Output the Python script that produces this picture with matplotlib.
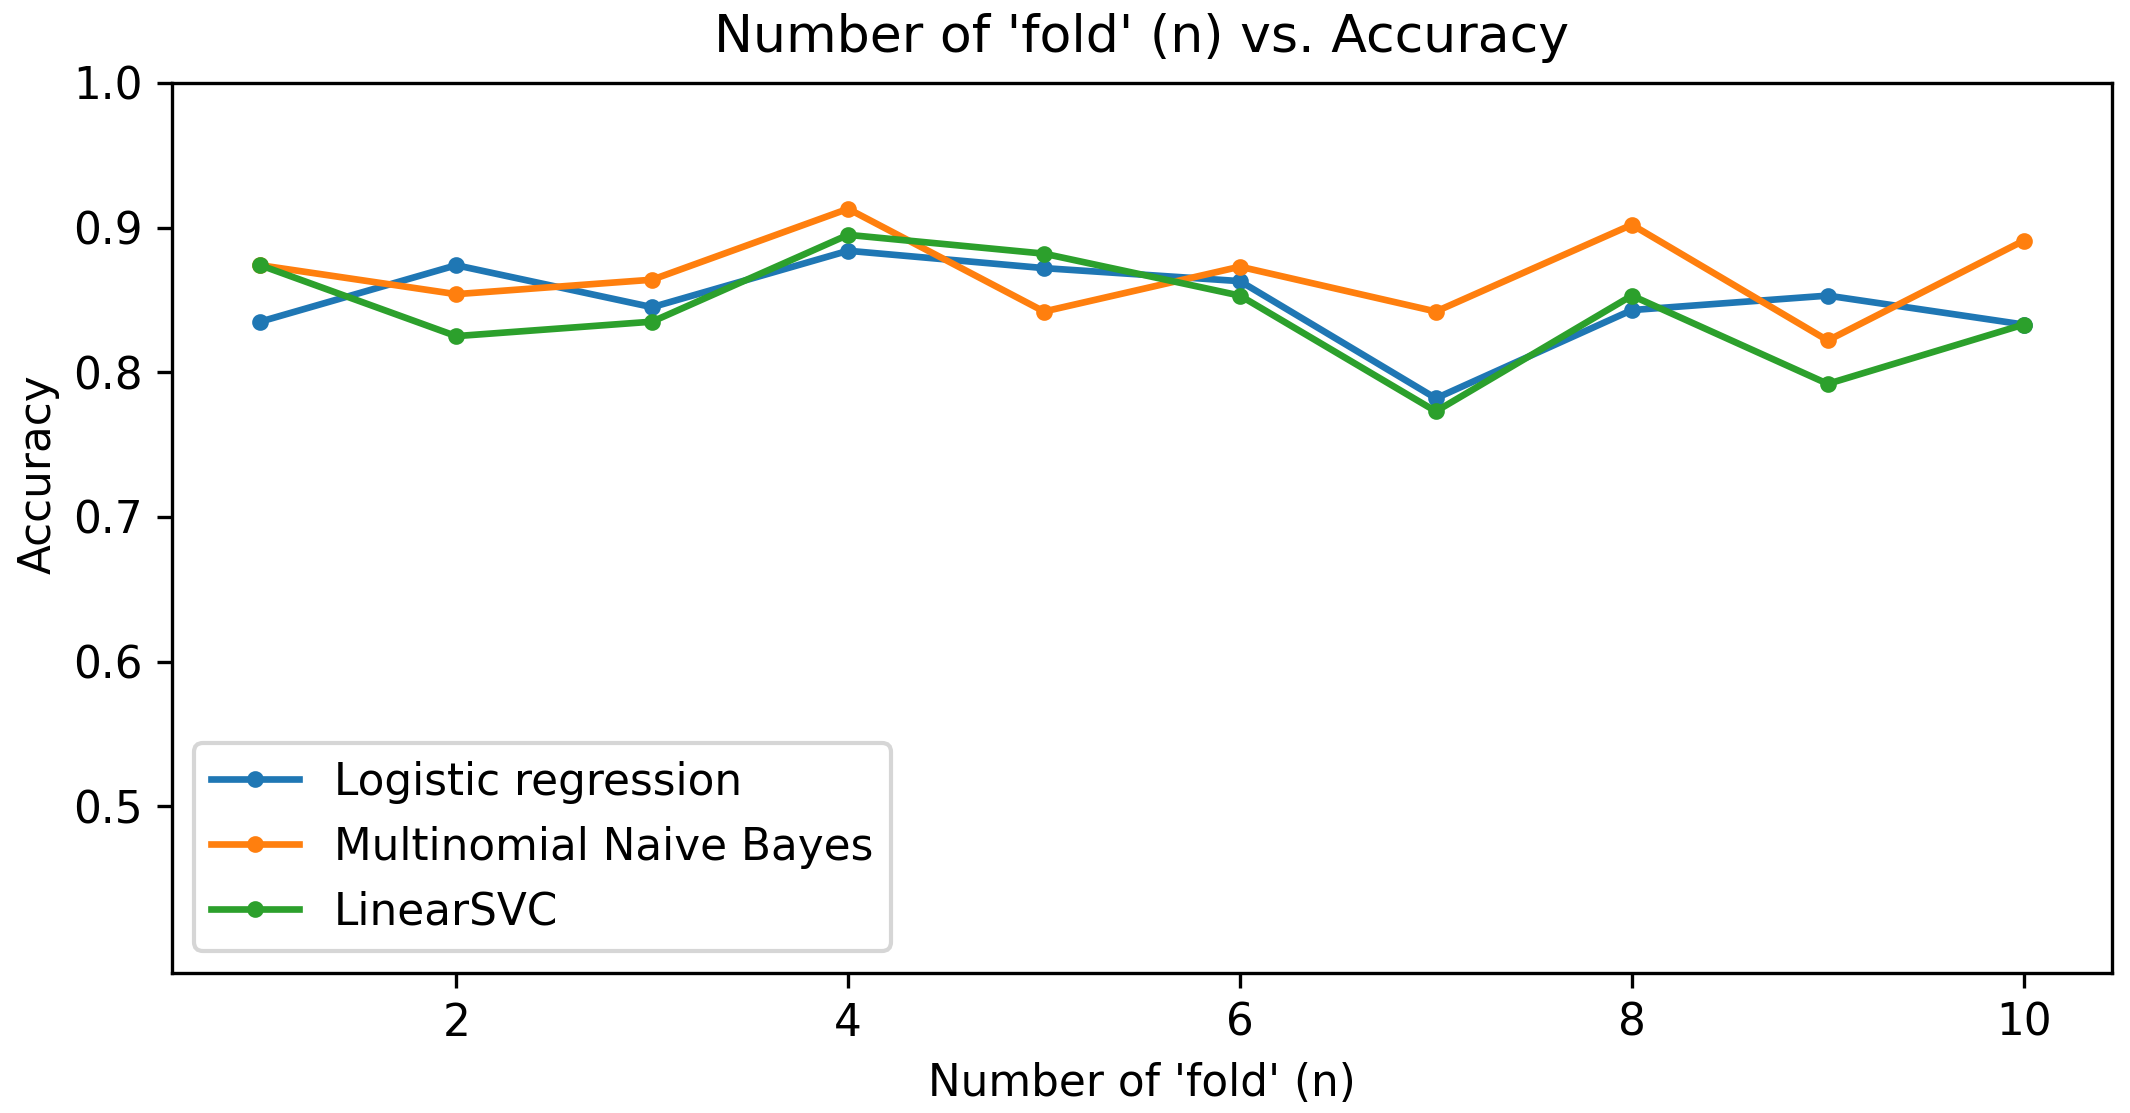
import numpy as np
import matplotlib
matplotlib.use('Agg')
import matplotlib.pyplot as plt

# data
folds = [1, 2, 3, 4, 5, 6, 7, 8, 9, 10]
logistic = [0.835, 0.874, 0.845, 0.884, 0.872, 0.863, 0.782, 0.843, 0.853, 0.833]
naive_bayes = [0.874, 0.854, 0.864, 0.913, 0.842, 0.873, 0.842, 0.902, 0.822, 0.891]
linear_svc = [0.874, 0.825, 0.835, 0.895, 0.882, 0.853, 0.773, 0.853, 0.792, 0.833]
y_ticks = [0.5, 0.6, 0.7, 0.8, 0.9, 1.0]

plt.rcParams['font.size'] = 10.5

fig = plt.figure(figsize=(7.1, 3.71), dpi=300)
ax = fig.add_axes([0.0808, 0.126, 0.9915 - 0.0808, 0.9255 - 0.126])

ax.plot(folds, logistic, marker='.', linewidth=1.6, label='Logistic regression')
ax.plot(folds, naive_bayes, marker='.', linewidth=1.6, label='Multinomial Naive Bayes')
ax.plot(folds, linear_svc, marker='.', linewidth=1.6, label='LinearSVC')

ax.set_title("Number of 'fold' (n) vs. Accuracy", fontsize=12.5, pad=7.5)
ax.set_xlabel("Number of 'fold' (n)")
ax.set_ylabel('Accuracy')
ax.yaxis.set_label_coords(-0.058, 0.56)
ax.set_yticks(y_ticks)
ax.set_ylim(0.385, 1.0)
ax.legend(loc='lower left')

fig.savefig('out.png', dpi=300)
